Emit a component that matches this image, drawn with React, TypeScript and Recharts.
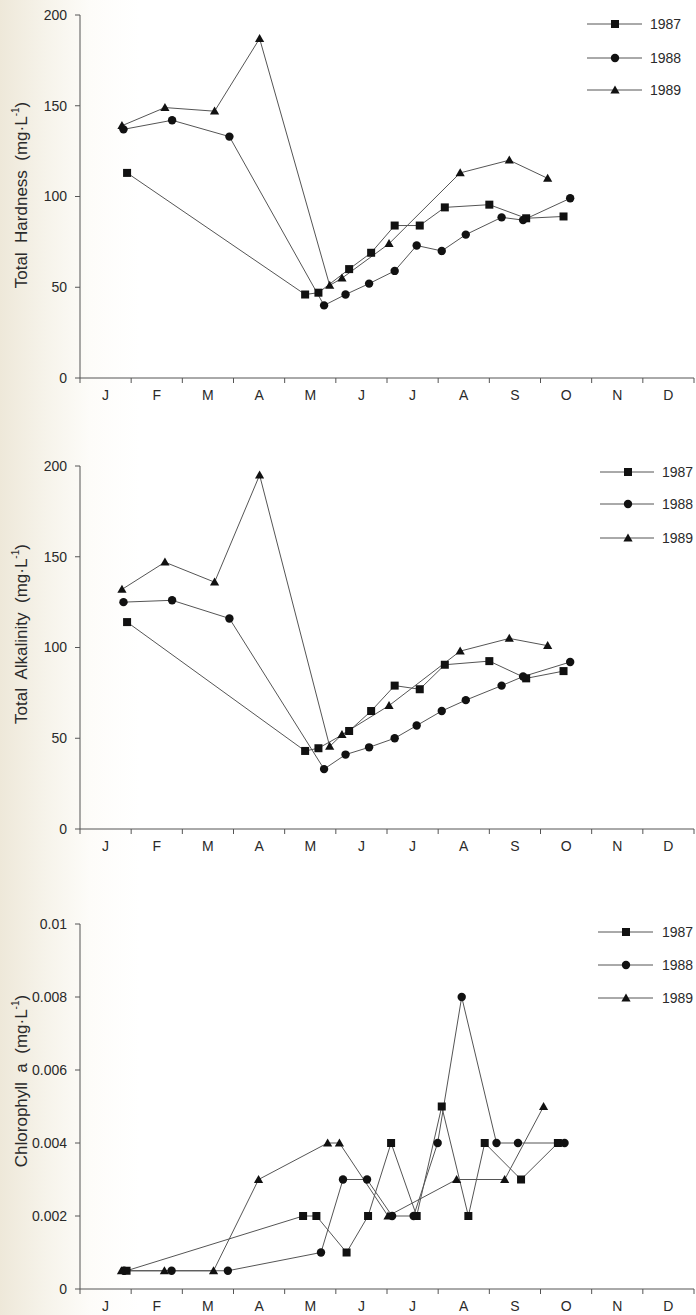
import React from 'react';
import { LineChart, Line, XAxis, YAxis, Legend } from 'recharts';

// ---------- data (x = month position, 0 = 1 Jan, 12 = 31 Dec) ----------
const monthLabels = ['J', 'F', 'M', 'A', 'M', 'J', 'J', 'A', 'S', 'O', 'N', 'D'];
const monthTicks = [0, 1, 2, 3, 4, 5, 6, 7, 8, 9, 10, 11, 12];
const years = ['1987', '1988', '1989'];

const dates1987 = [0.92, 4.4, 4.66, 5.26, 5.69, 6.15, 6.64, 7.13, 8.0, 8.72, 9.45];
const dates1988 = [0.85, 1.8, 2.92, 4.77, 5.19, 5.65, 6.15, 6.58, 7.07, 7.54, 8.24, 8.66, 9.58];
const dates1989 = [0.82, 1.66, 2.63, 3.51, 4.88, 5.12, 6.04, 7.43, 8.39, 9.14];

const hardness1987 = [113, 46, 47, 60, 69, 84, 84, 94, 95.5, 88, 89];
const hardness1988 = [137, 142, 133, 40, 46, 52, 59, 73, 70, 79, 88.5, 87, 99];
const hardness1989 = [139, 149, 147, 187, 51, 55, 74, 113, 120, 110];

const alkalinity1987 = [114, 43, 44.5, 54, 65, 79, 77, 90.5, 92.5, 83, 87];
const alkalinity1988 = [125, 126, 116, 33, 41, 45, 50, 57, 65, 71, 79, 84, 92];
const alkalinity1989 = [132, 147, 136, 195, 45.5, 52, 68, 98, 105, 101];

const chlDates1987 = [0.91, 4.36, 4.62, 5.21, 5.63, 6.08, 6.58, 7.07, 7.59, 7.91, 8.62, 9.34];
const chlDates1988 = [0.86, 1.79, 2.89, 4.71, 5.14, 5.61, 6.1, 6.52, 6.99, 7.46, 8.14, 8.56, 9.47];
const chlDates1989 = [0.81, 1.65, 2.61, 3.49, 4.84, 5.07, 6.02, 7.36, 8.3, 9.06];
const chl1987 = [0.0005, 0.002, 0.002, 0.001, 0.002, 0.004, 0.002, 0.005, 0.002, 0.004, 0.003, 0.004];
const chl1988 = [0.0005, 0.0005, 0.0005, 0.001, 0.003, 0.003, 0.002, 0.002, 0.004, 0.008, 0.004, 0.004, 0.004];
const chl1989 = [0.0005, 0.0005, 0.0005, 0.003, 0.004, 0.004, 0.002, 0.003, 0.003, 0.005];

const ticks200 = [0, 50, 100, 150, 200];
const ticksChl = [0, 0.002, 0.004, 0.006, 0.008, 0.01];

const toPoints = (xs: number[], ys: number[]) => xs.map((x, i) => ({ x, y: ys[i] }));

// ---------- style ----------
const FONT = '"Liberation Sans", Arial, Helvetica, sans-serif';
const AXIS = '#555';
const TEXT = '#2a2a2a';
const LINE = '#555';
const MARK = '#111';
const PLOT_LEFT = 80;
const PLOT_RIGHT = 694;
const HALF_MONTH = (PLOT_RIGHT - PLOT_LEFT) / 24;

const Square = ({ cx, cy }: any) => <rect x={cx - 4} y={cy - 4} width={8} height={8} fill={MARK} />;
const Dot = ({ cx, cy }: any) => <circle cx={cx} cy={cy} r={4.2} fill={MARK} />;
const Tri = ({ cx, cy }: any) => (
  <polygon points={`${cx},${cy - 4.6} ${cx - 4.6},${cy + 3.4} ${cx + 4.6},${cy + 3.4}`} fill={MARK} />
);
const shapes = [Square, Dot, Tri];

const makeDot = (Shape: any) => (p: any) =>
  p.cx == null || p.cy == null ? <g key={p.index} /> : <Shape key={p.index} cx={p.cx} cy={p.cy} />;

const MonthTick = ({ x, y, payload }: any) => {
  const v = payload.value;
  if (v >= 12) return <g />;
  return (
    <text x={x + HALF_MONTH} y={y} dy="0.71em" textAnchor="middle" fontSize={14} fill={TEXT} fontFamily={FONT}>
      {monthLabels[v]}
    </text>
  );
};

type LegendCfg = { rows: number[]; x1: number; x2: number; mx: number; tx: number };

const makeLegend = (cfg: LegendCfg) => () => (
  <svg width={696} height={130} style={{ display: 'block', overflow: 'visible' }}>
    {years.map((yr, i) => {
      const S = shapes[i];
      const y = cfg.rows[i];
      return (
        <g key={yr}>
          <line x1={cfg.x1} x2={cfg.x2} y1={y} y2={y} stroke={LINE} strokeWidth={1} />
          <S cx={cfg.mx} cy={y} />
          <text x={cfg.tx} y={y} dy="0.36em" fontSize={14} fill={TEXT} fontFamily={FONT}>
            {yr}
          </text>
        </g>
      );
    })}
  </svg>
);

type PanelProps = {
  top: number;
  height: number;
  margin: { top: number; bottom: number };
  xAxisHeight: number;
  series: { x: number; y: number }[][];
  domain: [number, number];
  ticks: number[];
  title: string;
  titleY: number;
  legend: LegendCfg;
  fmt?: (v: number) => string;
};

const Panel = (p: PanelProps) => {
  const Title = () => (
    <text
      x={21}
      y={p.titleY}
      transform={`rotate(-90, 21, ${p.titleY})`}
      textAnchor="middle"
      dominantBaseline="central"
      fontSize={17}
      fill={TEXT}
      fontFamily={FONT}
      style={{ whiteSpace: 'pre' }}
    >
      {p.title + '  (mg·L'}
      <tspan dy={-6} fontSize={10}>-1</tspan>
      <tspan dy={6}>)</tspan>
    </text>
  );
  return (
    <div style={{ position: 'absolute', left: 0, top: p.top, width: 696, height: p.height }}>
      <LineChart
        width={696}
        height={p.height}
        margin={{ top: p.margin.top, right: 696 - PLOT_RIGHT, left: 20, bottom: p.margin.bottom }}
      >
        <XAxis
          type="number"
          dataKey="x"
          domain={[0, 12]}
          ticks={monthTicks}
          interval={0}
          allowDataOverflow
          height={p.xAxisHeight}
          stroke={AXIS}
          tickSize={5}
          tickMargin={7}
          tick={<MonthTick />}
        />
        <YAxis
          type="number"
          dataKey="y"
          domain={p.domain}
          ticks={p.ticks}
          interval={0}
          width={60}
          stroke={AXIS}
          tickSize={5}
          tickMargin={8}
          tickFormatter={p.fmt}
          tick={{ fontSize: 14, fill: TEXT, fontFamily: FONT }}
          label={{ content: () => <Title /> }}
        />
        <Legend
          layout="vertical"
          align="center"
          verticalAlign="middle"
          content={makeLegend(p.legend)}
          wrapperStyle={{ left: 0, top: 0, width: 696, height: 130, pointerEvents: 'none' }}
        />
        {p.series.map((d, i) => (
          <Line
            key={years[i]}
            name={years[i]}
            data={d}
            dataKey="y"
            type="linear"
            stroke={LINE}
            strokeWidth={1}
            dot={makeDot(shapes[i])}
            activeDot={false}
            isAnimationActive={false}
          />
        ))}
      </LineChart>
    </div>
  );
};

export default function App() {
  return (
    <div
      style={{
        position: 'absolute',
        left: 0,
        top: 0,
        width: 696,
        height: 1315,
        overflow: 'hidden',
        background: 'linear-gradient(to right, #eee8d9 0px, #f6f3ea 45px, #fdfcf9 90px, #ffffff 140px)',
      }}
    >
      <Panel
        top={0}
        height={440}
        margin={{ top: 15, bottom: 32 }}
        xAxisHeight={30}
        series={[
          toPoints(dates1987, hardness1987),
          toPoints(dates1988, hardness1988),
          toPoints(dates1989, hardness1989),
        ]}
        domain={[0, 200]}
        ticks={ticks200}
        title="Total  Hardness"
        titleY={195}
        legend={{ rows: [24, 58, 90], x1: 587, x2: 642, mx: 615, tx: 650 }}
      />
      <Panel
        top={450}
        height={440}
        margin={{ top: 16, bottom: 31 }}
        xAxisHeight={30}
        series={[
          toPoints(dates1987, alkalinity1987),
          toPoints(dates1988, alkalinity1988),
          toPoints(dates1989, alkalinity1989),
        ]}
        domain={[0, 200]}
        ticks={ticks200}
        title="Total  Alkalinity"
        titleY={184}
        legend={{ rows: [22, 54, 88], x1: 600, x2: 654, mx: 628, tx: 662 }}
      />
      <Panel
        top={900}
        height={415}
        margin={{ top: 24, bottom: 0 }}
        xAxisHeight={26}
        series={[
          toPoints(chlDates1987, chl1987),
          toPoints(chlDates1988, chl1988),
          toPoints(chlDates1989, chl1989),
        ]}
        domain={[0, 0.01]}
        ticks={ticksChl}
        fmt={(v: number) => String(v)}
        title="Chlorophyll  a"
        titleY={181}
        legend={{ rows: [32, 65, 98], x1: 598, x2: 653, mx: 626, tx: 662 }}
      />
    </div>
  );
}
